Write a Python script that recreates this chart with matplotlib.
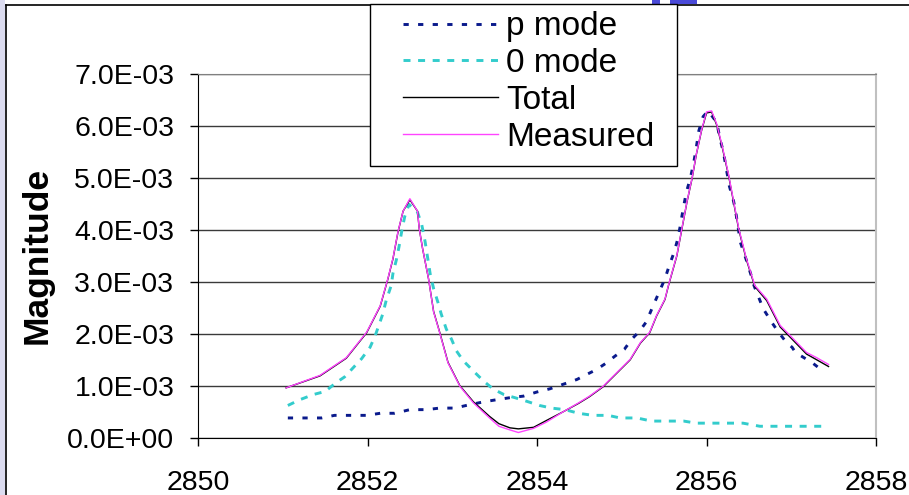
import numpy as np
import matplotlib
matplotlib.use("Agg")
import matplotlib.pyplot as plt
from matplotlib.patches import Rectangle
from matplotlib.lines import Line2D
from matplotlib.ticker import FuncFormatter

plt.rcParams["font.family"] = ["Liberation Sans", "DejaVu Sans"]

# measured response (values in 1E-3)
x_meas = [2851.04, 2851.44, 2851.75, 2851.99, 2852.15, 2852.24, 2852.30, 2852.36,
          2852.42, 2852.50, 2852.59, 2852.61, 2852.65, 2852.72, 2852.78, 2852.85,
          2852.95, 2853.09, 2853.25, 2853.44, 2853.55, 2853.68, 2853.78, 2853.96,
          2854.11, 2854.31, 2854.49, 2854.62, 2854.78, 2854.94, 2855.10, 2855.22,
          2855.33, 2855.41, 2855.51, 2855.55, 2855.65, 2855.71, 2855.77, 2855.83,
          2855.88, 2855.94, 2856.00, 2856.06, 2856.12, 2856.18, 2856.26, 2856.32,
          2856.38, 2856.47, 2856.57, 2856.71, 2856.87, 2856.99, 2857.18, 2857.30,
          2857.44]
measured = [0.96, 1.20, 1.54, 2.03, 2.54, 3.06, 3.45, 3.97,
            4.36, 4.60, 4.36, 4.03, 3.64, 3.06, 2.42, 2.03,
            1.44, 0.99, 0.67, 0.38, 0.22, 0.15, 0.10, 0.18,
            0.30, 0.50, 0.67, 0.80, 0.99, 1.25, 1.51, 1.83,
            2.03, 2.35, 2.67, 2.93, 3.51, 4.03, 4.55, 5.00,
            5.46, 5.91, 6.27, 6.29, 6.04, 5.65, 5.07, 4.55,
            4.03, 3.45, 2.93, 2.67, 2.16, 1.96, 1.64, 1.54,
            1.41]
total = [0.96, 1.19, 1.53, 2.02, 2.53, 3.05, 3.44, 3.96,
         4.36, 4.58, 4.36, 4.03, 3.64, 3.06, 2.43, 2.04,
         1.45, 1.00, 0.69, 0.41, 0.27, 0.19, 0.17, 0.20,
         0.33, 0.50, 0.66, 0.79, 0.98, 1.24, 1.50, 1.82,
         2.02, 2.34, 2.66, 2.92, 3.50, 4.02, 4.54, 4.99,
         5.45, 5.90, 6.25, 6.27, 6.02, 5.63, 5.05, 4.53,
         4.01, 3.43, 2.91, 2.64, 2.13, 1.93, 1.61, 1.50,
         1.37]

# 0 mode
x_zero = [2851.06, 2851.20, 2851.36, 2851.50, 2851.63, 2851.73, 2851.85, 2851.93,
          2852.03, 2852.09, 2852.14, 2852.18, 2852.22, 2852.28, 2852.30, 2852.34,
          2852.37, 2852.41, 2852.44, 2852.49, 2852.59, 2852.64, 2852.68, 2852.74,
          2852.78, 2852.83, 2852.87, 2852.93, 2852.99, 2853.05, 2853.13, 2853.27,
          2853.37, 2853.48, 2853.61, 2853.74, 2853.88, 2854.03, 2854.17, 2854.33,
          2854.49, 2854.66, 2854.84, 2854.98, 2855.18, 2855.35, 2855.55, 2855.73,
          2855.88, 2856.08, 2856.26, 2856.43, 2856.63, 2856.83, 2857.01, 2857.18,
          2857.38]
zero_mode = [0.62, 0.73, 0.83, 0.89, 1.06, 1.17, 1.38, 1.52,
             1.74, 1.96, 2.19, 2.38, 2.64, 2.93, 3.16, 3.42,
             3.66, 4.03, 4.26, 4.49, 4.34, 4.10, 3.77, 3.15,
             2.87, 2.61, 2.38, 2.09, 1.90, 1.67, 1.48, 1.25,
             1.09, 0.94, 0.83, 0.77, 0.70, 0.62, 0.57, 0.54,
             0.47, 0.43, 0.43, 0.38, 0.38, 0.32, 0.32, 0.32,
             0.28, 0.28, 0.28, 0.28, 0.22, 0.22, 0.22, 0.22,
             0.22]

# p mode
x_p = [2851.06, 2851.28, 2851.46, 2851.61, 2851.79, 2851.99, 2852.15, 2852.32,
       2852.50, 2852.70, 2852.85, 2853.03, 2853.19, 2853.37, 2853.52, 2853.68,
       2853.84, 2854.00, 2854.15, 2854.33, 2854.47, 2854.59, 2854.70, 2854.82,
       2854.92, 2855.03, 2855.12, 2855.21, 2855.29, 2855.36, 2855.51, 2855.56,
       2855.62, 2855.66, 2855.69, 2855.72, 2855.76, 2855.81, 2855.85, 2855.88,
       2855.91, 2855.96, 2856.02, 2856.12, 2856.16, 2856.20, 2856.27, 2856.32,
       2856.35, 2856.40, 2856.47, 2856.52, 2856.56, 2856.67, 2856.77, 2856.85,
       2856.94, 2857.01, 2857.05, 2857.15, 2857.25, 2857.36]
p_mode = [0.38, 0.38, 0.38, 0.43, 0.43, 0.43, 0.47, 0.47,
          0.54, 0.54, 0.57, 0.57, 0.63, 0.69, 0.73, 0.77,
          0.80, 0.88, 0.94, 1.04, 1.12, 1.22, 1.31, 1.44,
          1.57, 1.70, 1.90, 2.05, 2.23, 2.50, 3.06, 3.31,
          3.58, 3.82, 4.07, 4.36, 4.71, 5.00, 5.30, 5.59,
          5.91, 6.18, 6.29, 6.07, 5.75, 5.49, 4.84, 4.55,
          4.29, 3.76, 3.42, 3.16, 2.93, 2.48, 2.22, 2.03,
          1.84, 1.74, 1.64, 1.54, 1.44, 1.30]

y_ticks = [0, 0.001, 0.002, 0.003, 0.004, 0.005, 0.006, 0.007]
x_ticks = [2850, 2852, 2854, 2856, 2858]

W, H = 909, 495
fig = plt.figure(figsize=(W / 100, H / 100), dpi=100)
ax = fig.add_axes([198 / W, 1 - 437.7 / H, 678 / W, 363.7 / H])

s = 1e-3
ax.plot(x_p, np.array(p_mode) * s, color="#0a1a8c", lw=2.1, ls=(0, (1.8, 3.2)), label="p mode")
ax.plot(x_zero, np.array(zero_mode) * s, color="#33cccc", lw=2.1, ls=(0, (2.4, 2.6)), label="0 mode")
ax.plot(x_meas, np.array(total) * s, color="black", lw=1.0, label="Total")
ax.plot(x_meas, np.array(measured) * s, color="#ff44ff", lw=1.0, label="Measured")

ax.set_xlim(2850, 2858)
ax.set_ylim(0, 0.007)
ax.set_xticks(x_ticks)
ax.set_yticks(y_ticks)
ax.yaxis.set_major_formatter(FuncFormatter(lambda v, p: f"{v:.1E}"))
ax.tick_params(axis="both", labelsize=20.5, direction="out", length=6, width=1)
ax.tick_params(axis="y", pad=11)
ax.tick_params(axis="x", pad=17)
ax.grid(axis="y", color="#3a3a3a", lw=1)
ax.set_axisbelow(True)
ax.spines["top"].set_color("#808080")
ax.spines["right"].set_color("#c0c0c0")
ax.spines["right"].set_linewidth(1.5)
ax.set_ylabel("Magnitude", fontsize=25.5, fontweight="bold")
ax.yaxis.set_label_coords(-0.2124, 0.5)

# legend box
fig.add_artist(Rectangle((370 / W, 1 - 166 / H), 307 / W, 161.5 / H, transform=fig.transFigure,
                         facecolor="white", edgecolor="black", lw=1, zorder=5))
leg = fig.legend(loc="upper left", bbox_to_anchor=(403 / W, 1 - 11.5 / H), bbox_transform=fig.transFigure,
                 frameon=False, fontsize=24, borderpad=0, borderaxespad=0, labelspacing=0.17,
                 handlelength=2.85, handletextpad=0.25)
leg.set_zorder(6)

# slide frame decorations
fig.add_artist(Rectangle((0, 0), 5 / W, 1, transform=fig.transFigure, facecolor="#dcdcf0", edgecolor="none"))
fig.add_artist(Line2D([6 / W, 1], [1 - 4.5 / H, 1 - 4.5 / H], transform=fig.transFigure, color="black", lw=1.2))
fig.add_artist(Line2D([6 / W, 6 / W], [0, 1 - 4.5 / H], transform=fig.transFigure, color="black", lw=1.2))
fig.add_artist(Rectangle((652 / W, 1 - 4 / H), 8 / W, 4 / H, transform=fig.transFigure, facecolor="#4a4ad8", edgecolor="none"))
fig.add_artist(Rectangle((670 / W, 1 - 4 / H), 27 / W, 4 / H, transform=fig.transFigure, facecolor="#4a4ad8", edgecolor="none"))

fig.savefig("out.png", dpi=100)
